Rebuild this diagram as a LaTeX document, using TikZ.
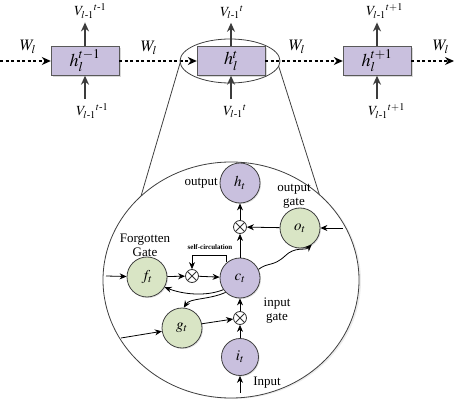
\documentclass[tikz,border=0pt]{standalone}
\usepackage{amsmath}
\usepackage{mathptmx}
\usepackage{fontspec}
\setmainfont{Liberation Serif}
\usepackage{xcolor}
\usetikzlibrary{positioning, arrows.meta, shadows, shapes.geometric}
\definecolor{cellpurple}{HTML}{C9C0DE}
\definecolor{gategreen}{HTML}{D9E5C5}
\definecolor{darkline}{HTML}{3C3C3C}
\tikzstyle{cell} = [rectangle, minimum width=68pt, minimum height=29pt, inner sep=0pt, draw=gray!70!black, fill=cellpurple, drop shadow={opacity=0.3, shadow xshift=1.5pt, shadow yshift=-1.5pt}, font=\fontsize{18}{18}\selectfont]
\tikzstyle{state} = [circle, minimum size=40pt, inner sep=0pt, draw=black!75, line width=0.8pt, fill=cellpurple, drop shadow={opacity=0.25, shadow xshift=1pt, shadow yshift=-1pt}, font=\fontsize{15}{15}\selectfont]
\tikzstyle{gate} = [state, fill=gategreen]
\tikzstyle{mult} = [circle, draw=black!80, line width=0.8pt, fill=white, minimum size=13pt, inner sep=0pt, path picture={\draw[line width=0.8pt] (path picture bounding box.north west) -- (path picture bounding box.south east) (path picture bounding box.north east) -- (path picture bounding box.south west);}]
\tikzstyle{flow} = [line width=1.3pt, dashed, dash pattern=on 3pt off 2.5pt, ->, >={Stealth[length=9pt,width=8pt]}]
\tikzstyle{feed} = [line width=1.6pt, draw=darkline, ->, >={Stealth[length=9pt,width=8pt]}]
\tikzstyle{arrow} = [line width=0.8pt, ->, >={Stealth[length=7pt,width=6pt]}]
\tikzstyle{lbl} = [font=\fontsize{13}{14}\selectfont, align=center, inner sep=1pt]
\tikzstyle{vlbl} = [font=\fontsize{14}{14}\selectfont, anchor=west, inner sep=1pt]

\begin{document}
\begin{tikzpicture}[x=1pt, y=-1pt]
    \useasboundingbox (0,0) rectangle (457,403);
    % unrolled chain
    \node(hprev)[cell] at (85,61) {$h_l^{t-1}$};
    \node(hcur)[cell] at (231,61) {$h_l^{t}$};
    \node(hnext)[cell] at (377,61) {$h_l^{t+1}$};
    \coordinate(start) at (0,61);
    \coordinate(finish) at (454,61);
    \draw [flow] (start) -- (hprev);
    \draw [flow] (hprev) -- (hcur);
    \draw [flow] (hcur) -- (hnext);
    \draw [flow] (hnext) -- (finish);
    \node[lbl, font=\fontsize{16}{16}\selectfont] at (28,47) {$W_l$};
    \node[lbl, font=\fontsize{16}{16}\selectfont] at (149,48) {$W_l$};
    \node[lbl, font=\fontsize{16}{16}\selectfont] at (297,47) {$W_l$};
    \node[lbl, font=\fontsize{16}{16}\selectfont] at (441,47) {$W_l$};
    %
    \node(vouta)[vlbl] at (73,11) {$V_{l\text{-}1}{}^{t\text{-}1}$};
    \node(voutb)[vlbl] at (219,12) {$V_{l\text{-}1}{}^{t}$};
    \node(voutc)[vlbl] at (365,11) {$V_{l\text{-}1}{}^{t+1}$};
    \node(vina)[vlbl] at (75,111) {$V_{l\text{-}1}{}^{t\text{-}1}$};
    \node(vinb)[vlbl] at (222,111) {$V_{l\text{-}1}{}^{t}$};
    \node(vinc)[vlbl] at (367,111) {$V_{l\text{-}1}{}^{t+1}$};
    \draw [feed, shorten >=3pt] (hprev.north) -- (hprev.north |- vouta.south);
    \draw [feed, shorten >=3pt] (hcur.north) -- (hcur.north |- voutb.south);
    \draw [feed, shorten >=3pt] (hnext.north) -- (hnext.north |- voutc.south);
    \draw [feed, shorten <=4pt] (hprev.south |- vina.north) -- (hprev.south);
    \draw [feed, shorten <=4pt] (hcur.south |- vinb.north) -- (hcur.south);
    \draw [feed, shorten <=4pt] (hnext.south |- vinc.north) -- (hnext.south);
    %
    % zoom into the cell
    \node(zoom)[ellipse, draw=black!75, line width=0.8pt, minimum width=100pt, minimum height=44pt, inner sep=0pt, outer sep=0pt] at (230,61) {};
    \node(cellview)[ellipse, draw=black!75, line width=0.8pt, minimum width=256pt, minimum height=236pt, inner sep=0pt, outer sep=0pt, drop shadow={opacity=0.15, shadow xshift=2pt, shadow yshift=-1pt}, fill=white] at (231,280) {};
    \draw [black!75, line width=0.8pt] (zoom.182) -- (cellview.137);
    \draw [black!75, line width=0.8pt] (zoom.354) -- (cellview.44);
    %
    \node(ht)[state] at (240,183) {$h_t$};
    \node(mout)[mult] at (240,227) {};
    \node(ot)[gate] at (300,228) {$o_t$};
    \node(ct)[state] at (240,278) {$c_t$};
    \node(mfor)[mult] at (192,276) {};
    \node(ft)[gate] at (147,277) {$f_t$};
    \node(gt)[gate] at (182,328) {$g_t$};
    \node(min)[mult] at (240,318) {};
    \node(it)[state, minimum size=37pt] at (240,357) {$i_t$};
    %
    \node[lbl, anchor=east] at (219,183) {output};
    \node[lbl] at (294,196) {output\\gate};
    \node[lbl] at (145,245) {Forgotten\\Gate};
    \node[lbl] at (277,311) {input\\gate};
    \node[lbl] at (267,383) {Input};
    \node[font=\fontsize{7}{7}\selectfont\bfseries] at (210,247) {self-circulation};
    %
    \coordinate(ofeed) at (343,228);
    \coordinate(ffeed) at (106,276);
    \coordinate(gfeed) at (121,338);
    \coordinate(infeed) at (240,393);
    \coordinate(looptop) at (208,255);
    \draw [arrow] (ofeed) -- (ot);
    \draw [arrow] (ot) -- (mout);
    \draw [arrow] (mout) -- (ht);
    \draw [arrow] (ct) -- (mout);
    \draw [arrow] (ffeed) -- (ft);
    \draw [arrow] (ft) -- (mfor);
    \draw [arrow] (mfor) -- (ct);
    \draw [arrow] (ct.130) -- (ct.130 |- looptop) -| (mfor.north);
    \draw [arrow] (gfeed) -- (gt);
    \draw [arrow] (gt.12) -- (min);
    \draw [arrow] (min) -- (ct);
    \draw [arrow] (it) -- (min);
    \draw [arrow] (infeed) -- (it);
    \draw [arrow] (ct.215) .. controls (205,297) and (182,294) .. (ft.-30);
    \draw [arrow] (ct.225) .. controls (208,300) and (190,298) .. (gt.85);
    \draw [arrow] (ct.25) .. controls (268,262) and (273,267) .. (285,256) .. controls (295,246) and (305,251) .. (ot.-55);
\end{tikzpicture}
\end{document}
